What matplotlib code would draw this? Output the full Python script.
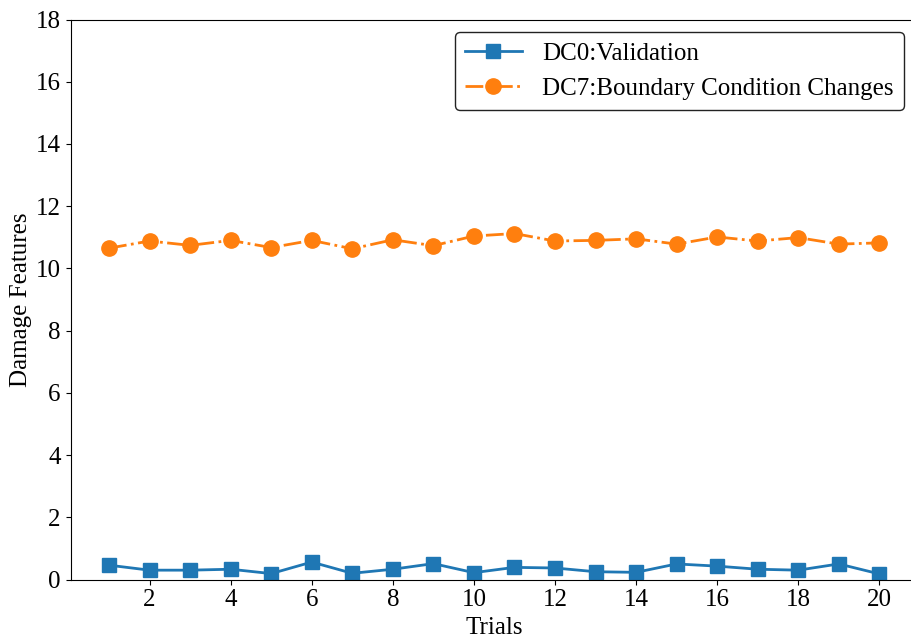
import matplotlib.pyplot as plt

plt.rcParams['font.family'] = ['Liberation Serif', 'DejaVu Serif']

trials = list(range(1, 21))
dc0 = [0.46, 0.30, 0.30, 0.33, 0.19, 0.56, 0.20, 0.33, 0.51, 0.22,
       0.39, 0.37, 0.25, 0.23, 0.50, 0.43, 0.33, 0.30, 0.50, 0.18]
dc7 = [10.65, 10.88, 10.74, 10.90, 10.67, 10.90, 10.63, 10.92, 10.73, 11.04,
       11.12, 10.88, 10.90, 10.95, 10.78, 11.01, 10.88, 10.99, 10.78, 10.82]
xticks = list(range(2, 21, 2))
yticks = list(range(0, 19, 2))

fig = plt.figure(figsize=(9.11, 6.39), dpi=100)
# axes deliberately runs past the right edge (reference is cropped there)
ax = fig.add_axes([70.5 / 911, 1 - 579.5 / 639, (917.8 - 70.5) / 911, (579.5 - 19.5) / 639])

ax.plot(trials, dc0, color='tab:blue', marker='s', markersize=10, linewidth=2,
        linestyle='-', label='DC0:Validation')
ax.plot(trials, dc7, color='tab:orange', marker='o', markersize=11, linewidth=2,
        linestyle='-.', label='DC7:Boundary Condition Changes')

ax.set_xlim(0.05, 20.95)
ax.set_ylim(0, 18)
ax.set_xticks(xticks)
ax.set_yticks(yticks)
ax.tick_params(labelsize=18)
ax.set_xlabel('Trials', fontsize=18, labelpad=4)
ax.set_ylabel('Damage Features', fontsize=18, labelpad=3)

leg = ax.legend(loc='upper right', fontsize=18, frameon=True, fancybox=True,
                edgecolor='#222222', framealpha=1, handlelength=2.3,
                bbox_to_anchor=(0.998, 1.0))
leg.get_frame().set_linewidth(1.0)

fig.savefig('out.png', dpi=100)
